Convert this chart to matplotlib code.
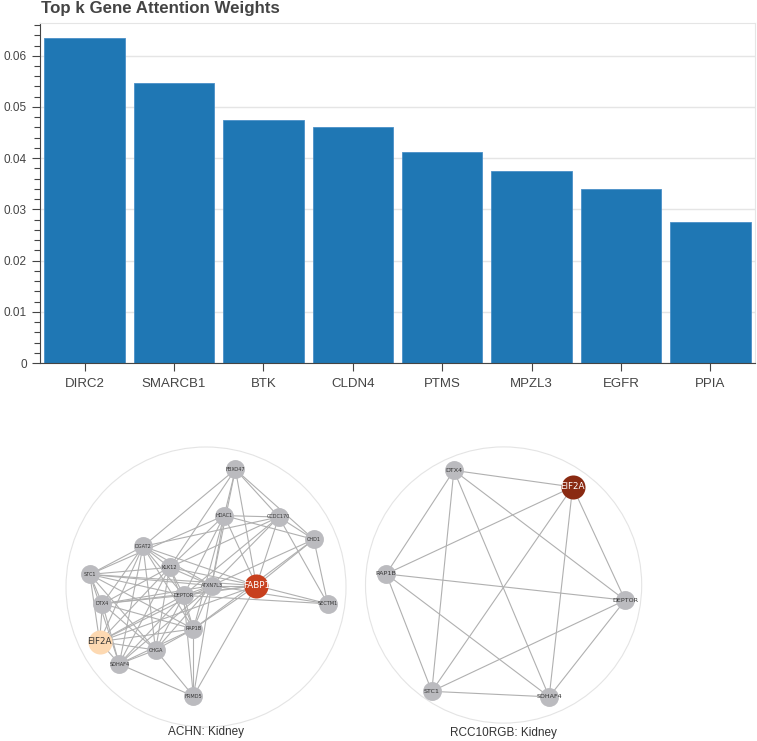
# Top-k gene attention bars plus two cell-line gene networks

import matplotlib.pyplot as plt
from matplotlib.ticker import MultipleLocator, FuncFormatter
from matplotlib.patches import Circle

plt.rcParams['font.family'] = ['Liberation Sans', 'DejaVu Sans']

# attention weights
genes = ['DIRC2', 'SMARCB1', 'BTK', 'CLDN4', 'PTMS', 'MPZL3', 'EGFR', 'PPIA']
weights = [0.0634, 0.0547, 0.0474, 0.0461, 0.0413, 0.0374, 0.0340, 0.0275]

# ACHN network layout (normalised to unit circle)
achn_nodes = ['FBXO47', 'HDAC1', 'CCDC170', 'CHD1', 'DGAT2', 'KLK12', 'STC1',
              'ATXN7L3', 'FABP1', 'DEPTOR', 'DTX4', 'SECTM1', 'RAP1B', 'EIF2A',
              'CHGA', 'SDHAF4', 'FRMD5']
achn_x = [0.21, 0.13, 0.52, 0.77, -0.45, -0.26, -0.83, 0.04, 0.36, -0.16,
          -0.74, 0.87, -0.09, -0.76, -0.36, -0.62, -0.09]
achn_y = [0.84, 0.51, 0.50, 0.34, 0.29, 0.14, 0.09, 0.01, 0.01, -0.06,
          -0.12, -0.12, -0.30, -0.39, -0.45, -0.55, -0.78]
achn_edges = [
    ('FBXO47', 'HDAC1'), ('FBXO47', 'CCDC170'), ('FBXO47', 'CHD1'), ('FBXO47', 'DGAT2'),
    ('FBXO47', 'KLK12'), ('FBXO47', 'FABP1'), ('FBXO47', 'ATXN7L3'),
    ('HDAC1', 'CCDC170'), ('HDAC1', 'CHD1'), ('HDAC1', 'KLK12'), ('HDAC1', 'ATXN7L3'),
    ('HDAC1', 'DEPTOR'), ('HDAC1', 'FABP1'), ('HDAC1', 'RAP1B'), ('HDAC1', 'STC1'),
    ('CCDC170', 'CHD1'), ('CCDC170', 'KLK12'), ('CCDC170', 'DEPTOR'), ('CCDC170', 'ATXN7L3'),
    ('CCDC170', 'FABP1'), ('CCDC170', 'SECTM1'), ('CCDC170', 'DGAT2'),
    ('CHD1', 'FABP1'), ('CHD1', 'SECTM1'), ('CHD1', 'ATXN7L3'), ('CHD1', 'RAP1B'),
    ('DGAT2', 'STC1'), ('DGAT2', 'KLK12'), ('DGAT2', 'DEPTOR'), ('DGAT2', 'ATXN7L3'),
    ('DGAT2', 'DTX4'), ('DGAT2', 'EIF2A'), ('DGAT2', 'CHGA'), ('DGAT2', 'SDHAF4'),
    ('DGAT2', 'RAP1B'), ('DGAT2', 'FABP1'),
    ('KLK12', 'STC1'), ('KLK12', 'DEPTOR'), ('KLK12', 'ATXN7L3'), ('KLK12', 'FABP1'),
    ('KLK12', 'DTX4'), ('KLK12', 'EIF2A'), ('KLK12', 'CHGA'), ('KLK12', 'SDHAF4'),
    ('KLK12', 'RAP1B'),
    ('STC1', 'DTX4'), ('STC1', 'EIF2A'), ('STC1', 'DEPTOR'), ('STC1', 'ATXN7L3'),
    ('STC1', 'FABP1'), ('STC1', 'CHGA'), ('STC1', 'SDHAF4'), ('STC1', 'RAP1B'),
    ('ATXN7L3', 'DEPTOR'), ('ATXN7L3', 'FABP1'), ('ATXN7L3', 'RAP1B'), ('ATXN7L3', 'DTX4'),
    ('ATXN7L3', 'EIF2A'), ('ATXN7L3', 'CHGA'), ('ATXN7L3', 'SDHAF4'), ('ATXN7L3', 'FRMD5'),
    ('ATXN7L3', 'SECTM1'),
    ('FABP1', 'SECTM1'), ('FABP1', 'DEPTOR'), ('FABP1', 'RAP1B'), ('FABP1', 'EIF2A'),
    ('FABP1', 'FRMD5'), ('FABP1', 'DTX4'),
    ('DEPTOR', 'DTX4'), ('DEPTOR', 'SECTM1'), ('DEPTOR', 'RAP1B'), ('DEPTOR', 'EIF2A'),
    ('DEPTOR', 'CHGA'), ('DEPTOR', 'SDHAF4'), ('DEPTOR', 'FRMD5'),
    ('DTX4', 'EIF2A'), ('DTX4', 'SDHAF4'), ('DTX4', 'CHGA'), ('DTX4', 'RAP1B'),
    ('RAP1B', 'EIF2A'), ('RAP1B', 'CHGA'), ('RAP1B', 'SDHAF4'), ('RAP1B', 'FRMD5'),
    ('EIF2A', 'SDHAF4'), ('EIF2A', 'CHGA'),
    ('CHGA', 'SDHAF4'), ('CHGA', 'FRMD5'), ('SDHAF4', 'FRMD5'),
]
achn_highlight = {'FABP1': '#c8401e', 'EIF2A': '#fdd9b2'}
achn_label_color = {'FABP1': 'white', 'EIF2A': '#333333'}

# RCC10RGB network layout
rcc_nodes = ['DTX4', 'EIF2A', 'RAP1B', 'DEPTOR', 'STC1', 'SDHAF4']
rcc_x = [-0.36, 0.50, -0.85, 0.88, -0.52, 0.33]
rcc_y = [0.83, 0.71, 0.08, -0.11, -0.77, -0.81]
rcc_edges = [(a, b) for i, a in enumerate(rcc_nodes) for b in rcc_nodes[i + 1:]]
rcc_highlight = {'EIF2A': '#8a2a12'}
rcc_label_color = {'EIF2A': 'white'}

fig = plt.figure(figsize=(7.57, 7.41), dpi=100)

# ---- bar chart ----
ax = fig.add_axes([40 / 757, 1 - 363 / 741, 715 / 757, 340 / 741])
ax.bar(range(len(genes)), weights, width=0.9, color='#1f77b4',
       edgecolor='#4a90c8', linewidth=0.6, zorder=2)
ax.set_xlim(-0.5, len(genes) - 0.5)
ax.set_ylim(0, 0.0664)
ax.set_xticks(range(len(genes)))
ax.set_xticklabels(genes, fontsize=9.5, color='#444444')
ax.yaxis.set_major_locator(MultipleLocator(0.01))
ax.yaxis.set_minor_locator(MultipleLocator(0.002))
ax.yaxis.set_major_formatter(FuncFormatter(lambda v, p: '0' if abs(v) < 1e-9 else f'{v:.2f}'))
ax.tick_params(axis='y', which='major', length=6, width=0.8, color='#444444',
               labelsize=8.5, labelcolor='#444444')
ax.tick_params(axis='y', which='minor', length=4, width=0.8, color='#444444')
ax.tick_params(axis='x', length=6, width=0.8, color='#444444', pad=5)
ax.grid(axis='y', color='#e5e5e5', linewidth=1, zorder=0)
for side in ['top', 'right']:
    ax.spines[side].set_color('#e5e5e5')
for side in ['left', 'bottom']:
    ax.spines[side].set_color('#444444')
    ax.spines[side].set_linewidth(0.8)
fig.text(41 / 757, 1 - 13.5 / 741, 'Top k Gene Attention Weights', fontsize=12.2,
         fontweight='bold', color='#444444', ha='left', va='baseline')


def draw_net(rect, nodes, xs, ys, edges, highlight, label_color, title, small_fs, title_y):
    a = fig.add_axes(rect)
    a.set_xlim(-1.05, 1.05)
    a.set_ylim(-1.05, 1.05)
    a.set_aspect('equal')
    a.axis('off')
    pos = {n: (x, y) for n, x, y in zip(nodes, xs, ys)}
    a.add_patch(Circle((0, 0), 1.0, fill=False, edgecolor='#e4e4e4', linewidth=0.8))
    for u, v in edges:
        a.plot([pos[u][0], pos[v][0]], [pos[u][1], pos[v][1]],
               color='#b0b0b0', linewidth=0.8, zorder=1)
    for n in nodes:
        big = n in highlight
        a.scatter(*pos[n], s=300 if big else 185,
                  color=highlight.get(n, '#bbbbbf'), zorder=2, linewidths=0)
        a.text(*pos[n], n, ha='center', va='center', zorder=3,
               fontsize=6.3 if big else small_fs,
               color=label_color.get(n, '#333333'), family='DejaVu Sans')
    a.text(0, title_y, title, ha='center', va='center', fontsize=8.5,
           color='#333333', clip_on=False)


draw_net([59 / 757, 7 / 741, 294 / 757, 294 / 741], achn_nodes, achn_x, achn_y,
         achn_edges, achn_highlight, achn_label_color, 'ACHN: Kidney', 3.6, -1.035)
draw_net([358.6 / 757, 11 / 741, 290 / 757, 290 / 741], rcc_nodes, rcc_x, rcc_y,
         rcc_edges, rcc_highlight, rcc_label_color, 'RCC10RGB: Kidney', 4.6, -1.07)

fig.savefig('out.png', dpi=100)
